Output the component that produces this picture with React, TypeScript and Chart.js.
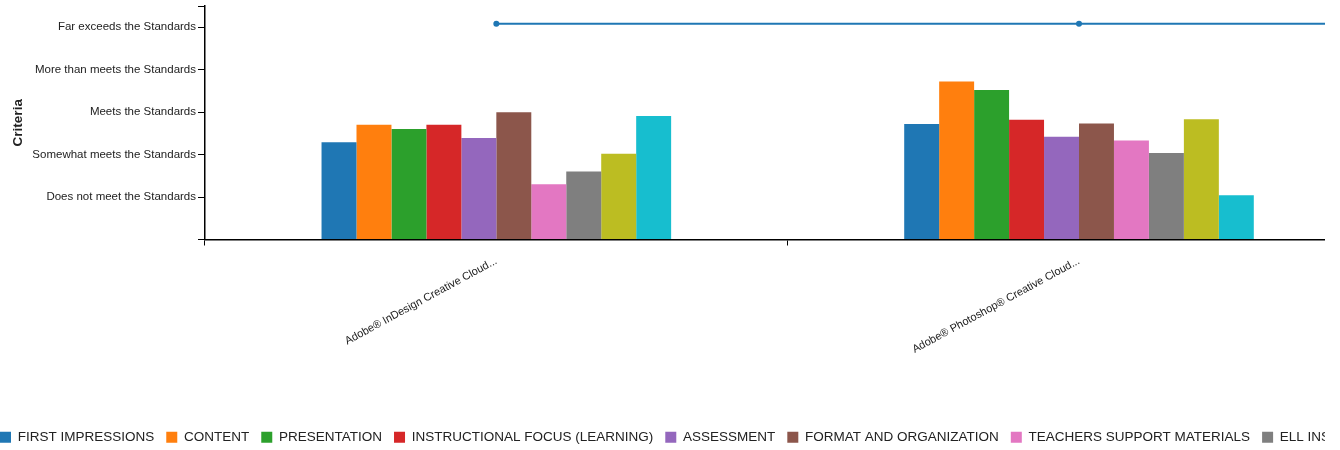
import React, { useEffect, useRef } from "react";
import { Chart, registerables } from "chart.js";

Chart.register(...registerables);

const categories = [
  "Adobe® InDesign Creative Cloud...",
  "Adobe® Photoshop® Creative Cloud...",
  "",
];

const seriesNames = [
  "FIRST IMPRESSIONS",
  "CONTENT",
  "PRESENTATION",
  "INSTRUCTIONAL FOCUS (LEARNING)",
  "ASSESSMENT",
  "FORMAT AND ORGANIZATION",
  "TEACHERS SUPPORT MATERIALS",
  "ELL INSTRUCTION",
  "SPECIAL NEEDS",
  "TECHNOLOGY",
];

const firstImpressions = [2.29, 2.72, null];
const content = [2.7, 3.72, null];
const presentation = [2.6, 3.52, null];
const instructionalFocus = [2.7, 2.82, null];
const assessment = [2.39, 2.42, null];
const formatOrganization = [3.0, 2.73, null];
const teachersSupport = [1.3, 2.33, null];
const ellInstruction = [1.6, 2.04, null];
const series9 = [2.02, 2.83, null];
const series10 = [2.91, 1.04, null];

const overallName = "OVERALL";
const overall = [5.08, 5.08, 5.08];

const yTickLabels = [
  "",
  "Does not meet the Standards",
  "Somewhat meets the Standards",
  "Meets the Standards",
  "More than meets the Standards",
  "Far exceeds the Standards",
];
const yTickValues = [0, 1, 2, 3, 4, 5, 5.5];

const colors = [
  "#1f77b4",
  "#ff7f0e",
  "#2ca02c",
  "#d62728",
  "#9467bd",
  "#8c564b",
  "#e377c2",
  "#7f7f7f",
  "#bcbd22",
  "#17becf",
];

const FONT = "'Liberation Sans', Arial, Helvetica, sans-serif";
const SHIFT = 12;
const CANVAS_W = 1957 + SHIFT;
const CANVAS_H = 454;

export default function App() {
  const ref = useRef<HTMLCanvasElement | null>(null);

  useEffect(() => {
    if (!ref.current) return;
    const barSeries = [
      firstImpressions,
      content,
      presentation,
      instructionalFocus,
      assessment,
      formatOrganization,
      teachersSupport,
      ellInstruction,
      series9,
      series10,
    ];
    const datasets: any[] = barSeries.map((d, i) => ({
      type: "bar",
      label: seriesNames[i],
      data: d,
      backgroundColor: colors[i],
      borderWidth: 0,
      categoryPercentage: 0.6,
      barPercentage: 1.0,
    }));
    datasets.push({
      type: "line",
      label: overallName,
      data: overall,
      borderColor: "#1f77b4",
      backgroundColor: "#1f77b4",
      borderWidth: 2,
      pointRadius: 3,
      pointBackgroundColor: "#1f77b4",
      pointBorderWidth: 0,
      tension: 0,
    });

    const chart = new Chart(ref.current, {
      type: "bar",
      data: { labels: categories, datasets },
      options: {
        responsive: false,
        animation: false,
        layout: { padding: { top: 6, left: 0, right: 0, bottom: 0 } },
        plugins: {
          tooltip: { enabled: false },
          legend: {
            position: "bottom",
            align: "start",
            labels: {
              boxWidth: 11,
              boxHeight: 11,
              padding: 12,
              color: "#222",
              font: { family: FONT, size: 13.5 },
            },
          },
        },
        scales: {
          x: {
            ticks: {
              maxRotation: 28.5,
              minRotation: 28.5,
              autoSkip: false,
              color: "#222",
              padding: 9,
              font: { family: FONT, size: 11 },
            },
            grid: {
              offset: true,
              drawOnChartArea: false,
              drawTicks: true,
              tickLength: 6,
              color: "#000",
              lineWidth: 1,
            },
            border: { display: true, color: "#000", width: 1.5 },
            afterFit: (s: any) => {
              s.height = 179;
              s.paddingLeft = 0;
              s.paddingRight = 0;
            },
          },
          y: {
            min: 0,
            max: 5.5,
            afterBuildTicks: (s: any) => {
              s.ticks = yTickValues.map((v) => ({ value: v }));
            },
            ticks: {
              autoSkip: false,
              color: "#222",
              padding: 2,
              font: { family: FONT, size: 11.5 },
              callback: (v: any) => yTickLabels[v as number] ?? "",
            },
            grid: {
              drawOnChartArea: false,
              drawTicks: true,
              tickLength: 7,
              color: "#000",
              lineWidth: 1,
            },
            border: { display: true, color: "#000", width: 1.5 },
            title: {
              display: true,
              text: "Criteria",
              color: "#222",
              font: { family: FONT, size: 13.5, weight: "bold" },
              padding: { top: 10 + SHIFT, bottom: 0 },
            },
            afterFit: (s: any) => {
              s.width = 205 + SHIFT;
              s.paddingTop = 0;
              s.paddingBottom = 0;
            },
          },
        },
      },
    } as any);
    return () => chart.destroy();
  }, []);

  return (
    <div
      style={{
        position: "absolute",
        left: 0,
        top: 0,
        width: 1325,
        height: 450,
        overflow: "hidden",
        background: "#fff",
      }}
    >
      <canvas
        ref={ref}
        width={CANVAS_W}
        height={CANVAS_H}
        style={{
          position: "absolute",
          left: -SHIFT,
          top: 0,
          width: CANVAS_W,
          height: CANVAS_H,
        }}
      />
    </div>
  );
}
